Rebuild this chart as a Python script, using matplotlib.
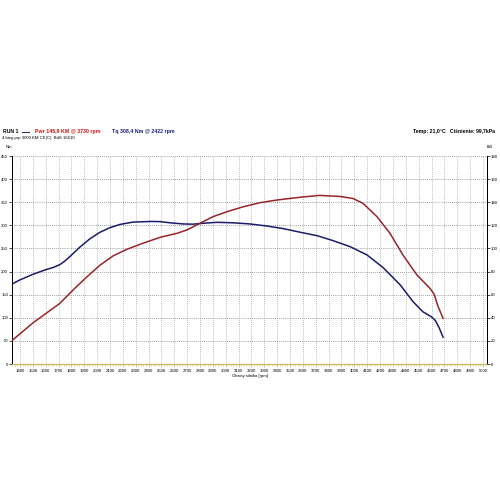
import matplotlib
matplotlib.use("Agg")
import matplotlib.pyplot as plt
from matplotlib.ticker import MultipleLocator

# ---- data ----
rpm_tq = [1345, 1400, 1500, 1600, 1660, 1710, 1750, 1790, 1866, 1944, 2022, 2100, 2178, 2280,
          2420, 2490, 2567, 2667, 2745, 2823, 2932, 3056, 3188, 3321, 3445, 3580,
          3712, 3833, 3966, 4098, 4222, 4357, 4456, 4533, 4600, 4630, 4660, 4690]
torque_nm = [174, 182, 194, 204, 209, 215, 223, 233, 253, 271, 285, 295, 302, 307,
             308.4, 308, 305.5, 303, 302.5, 304.5, 306.5, 305.5, 303, 298.5, 293, 285,
             277.5, 267, 254, 236, 209, 171, 135, 113, 102, 94, 78, 58]

rpm_pw = [1345, 1500, 1710, 1812, 1921, 2022, 2123, 2232, 2356, 2489, 2621, 2698,
          2800, 2901, 3010, 3134, 3266, 3398, 3577, 3730, 3888, 3990, 4067, 4176,
          4277, 4378, 4487, 4588, 4620, 4650, 4690]
power_km = [21, 35.5, 52.5, 64, 75.5, 85.5, 93.5, 99.3, 104.5, 109.6, 113.1, 116,
            121.8, 127.5, 131.8, 136, 139.6, 141.9, 144.3, 145.9, 145.0, 143.2, 139.1, 127.5,
            113.1, 94.3, 77, 65.5, 60.5, 50, 39.5]

x_ticks = list(range(1400, 5001, 100))
left_ticks = list(range(0, 451, 50))
right_ticks = list(range(0, 181, 20))

header_run = "RUN 1"
header_pwr = "Pwr 145,9 KM @ 3730 rpm"
header_tq = "Tq 308,4 Nm @ 2422 rpm"
header_sub = "4 bieg prp 3000 KM CE(C)  BdS 16610"
header_env = "Temp: 21,0\u00b0C   Ci\u015bnienie: 99,7kPa"
xlabel = "Obroty silnika [rpm]"

plt.rcParams['font.family'] = ['Liberation Sans', 'DejaVu Sans']

fig = plt.figure(figsize=(5, 5), dpi=100)
ax = fig.add_axes([0.0246, 0.272, 0.949, 0.416])
ax2 = ax.twinx()

tq_col = '#1c1c6b'
pw_col = '#9a2429'

ax.plot(rpm_tq, torque_nm, color=tq_col, lw=1.1, zorder=3)
ax2.plot(rpm_pw, power_km, color=pw_col, lw=1.1, zorder=3)

ax.set_xlim(1340, 5030)
ax.set_ylim(0, 450)
ax2.set_ylim(0, 180)

ax.set_xticks(x_ticks)
ax.set_xticklabels([str(v) for v in x_ticks], fontsize=3.1)
ax.xaxis.set_minor_locator(MultipleLocator(20))
ax.set_yticks(left_ticks)
ax.set_yticklabels([str(v) for v in left_ticks], fontsize=3.1)
ax2.set_yticks(right_ticks)
ax2.set_yticklabels([str(v) for v in right_ticks], fontsize=3.1)

ax.tick_params(axis='x', which='major', length=2, width=0.5, pad=1.5, color='#b8a860')
ax.tick_params(axis='x', which='minor', length=1.5, width=0.4, color='#c8b860')
ax.tick_params(axis='y', length=2, width=0.5, pad=1)
ax2.tick_params(axis='y', length=2, width=0.5, pad=1)

ax.grid(axis='x', which='major', color='#a8a8a8', linestyle=(0, (1, 1.5)), lw=0.6)
ax.grid(axis='y', which='major', color='#808080', linestyle=(0, (1, 1.5)), lw=0.6)

for a in (ax, ax2):
    a.spines['top'].set_visible(False)
    a.spines['left'].set_linewidth(0.7)
    a.spines['right'].set_linewidth(0.7)
    a.spines['bottom'].set_color('#c8b860')
    a.spines['bottom'].set_linestyle((0, (1, 1)))
    a.spines['bottom'].set_linewidth(0.8)

ax.text(1340, 470, "Nm", fontsize=3.1, ha='right', va='center')
ax2.text(5030, 188, "kW", fontsize=3.1, ha='left', va='center')
ax.set_xlabel(xlabel, fontsize=3.1, labelpad=0.5)

# header
fig.text(0.006, 0.737, header_run, fontsize=3.7, fontweight='bold', color='black', va='center')
fig.add_artist(plt.Line2D([0.044, 0.058], [0.737, 0.737], color=tq_col, lw=0.7))
fig.text(0.070, 0.737, header_pwr, fontsize=3.8, fontweight='bold', color='#cc1010', va='center')
fig.text(0.224, 0.737, header_tq, fontsize=3.8, fontweight='bold', color='#1a1a80', va='center')
fig.text(0.004, 0.725, header_sub, fontsize=3.1, color='black', va='center')
fig.text(0.990, 0.737, header_env, fontsize=3.7, fontweight='bold', color='black', va='center', ha='right')

fig.savefig("out.png", dpi=100, facecolor='white')
